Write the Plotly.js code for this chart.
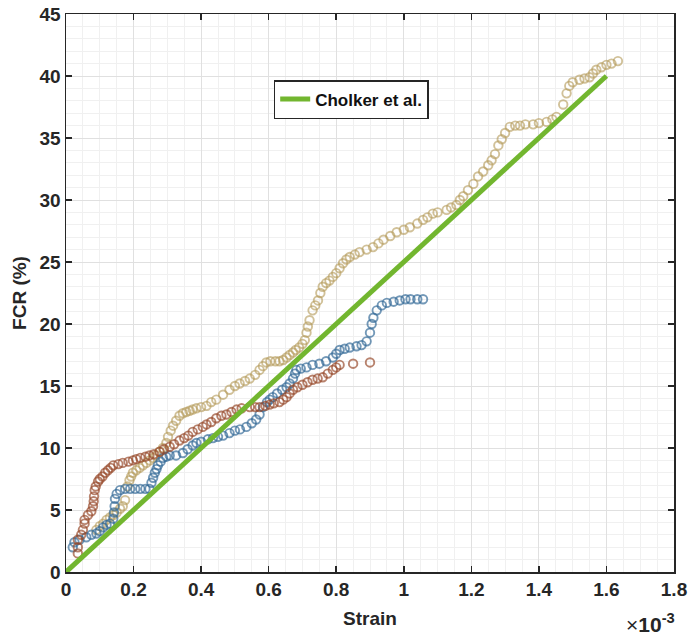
<!DOCTYPE html>
<html>
<head>
<meta charset="utf-8">
<script src="https://cdn.plot.ly/plotly-3.0.1.min.js"></script>
<style>html,body{margin:0;padding:0;background:#fff;}#chart{width:694px;height:636px;}</style>
</head>
<body>
<div id="chart"></div>
<script>
// Strain values are in units of 1e-3 (axis shows "x10^-3"), FCR in %.
const tanStrain = [0.09,0.10,0.11,0.12,0.13,0.14,0.15,0.16,0.168,0.175,0.182,0.188,0.193,0.198,0.208,0.218,0.228,0.238,0.248,0.257,0.267,0.277,0.287,0.297,0.302,0.31,0.317,0.326,0.336,0.346,0.356,0.366,0.375,0.386,0.40,0.416,0.43,0.445,0.465,0.484,0.50,0.514,0.53,0.544,0.56,0.573,0.583,0.593,0.605,0.62,0.632,0.643,0.653,0.662,0.672,0.68,0.69,0.70,0.707,0.712,0.716,0.721,0.73,0.738,0.746,0.753,0.76,0.77,0.78,0.79,0.80,0.81,0.82,0.83,0.84,0.855,0.869,0.89,0.909,0.925,0.94,0.96,0.979,1.0,1.018,1.04,1.057,1.07,1.086,1.10,1.127,1.14,1.156,1.166,1.176,1.19,1.206,1.22,1.235,1.25,1.26,1.27,1.28,1.29,1.30,1.314,1.33,1.344,1.36,1.383,1.40,1.423,1.44,1.452,1.472,1.482,1.49,1.50,1.52,1.535,1.55,1.56,1.57,1.585,1.60,1.615,1.634];
const tanFCR = [3.4,3.7,3.9,4.2,4.4,4.6,4.8,5.1,5.3,5.8,6.9,7.4,7.7,8.0,8.2,8.4,8.6,8.8,9.0,9.2,9.4,9.7,10.0,10.4,10.9,11.4,11.8,12.2,12.6,12.8,12.9,13.0,13.1,13.2,13.3,13.4,13.7,13.9,14.3,14.7,15.0,15.2,15.4,15.6,15.9,16.3,16.6,16.9,17.0,17.0,17.0,17.1,17.3,17.5,17.7,17.9,18.1,18.4,18.7,19.3,19.8,20.3,21.1,21.5,21.9,22.5,23.0,23.3,23.5,23.8,24.1,24.5,24.9,25.2,25.4,25.6,25.8,26.0,26.2,26.5,26.8,27.1,27.4,27.6,27.8,28.1,28.4,28.6,28.9,29.0,29.2,29.4,29.6,30.0,30.3,30.8,31.3,31.9,32.3,32.8,33.2,33.7,34.4,34.9,35.4,35.9,36.0,36.0,36.1,36.1,36.2,36.3,36.5,36.7,37.7,38.6,39.2,39.5,39.7,39.8,39.9,40.2,40.5,40.7,40.9,41.0,41.2];

const blueStrain = [0.02,0.025,0.04,0.06,0.075,0.09,0.10,0.11,0.12,0.13,0.14,0.142,0.144,0.145,0.15,0.16,0.175,0.19,0.205,0.22,0.235,0.247,0.253,0.258,0.263,0.268,0.272,0.28,0.287,0.297,0.307,0.326,0.346,0.36,0.375,0.386,0.40,0.42,0.435,0.45,0.465,0.484,0.50,0.515,0.534,0.55,0.563,0.573,0.583,0.595,0.603,0.612,0.625,0.64,0.653,0.662,0.672,0.678,0.682,0.695,0.712,0.73,0.75,0.77,0.79,0.80,0.81,0.825,0.84,0.86,0.875,0.89,0.90,0.905,0.91,0.92,0.935,0.95,0.97,0.988,1.005,1.02,1.04,1.057];
const blueFCR = [2.0,2.4,2.6,2.8,3.0,3.1,3.3,3.6,3.8,3.9,4.3,4.8,5.3,5.9,6.3,6.6,6.7,6.7,6.7,6.7,6.7,6.7,7.2,7.6,8.0,8.3,8.6,8.9,9.2,9.3,9.4,9.4,9.6,9.9,10.2,10.4,10.5,10.7,10.8,10.9,11.0,11.2,11.4,11.5,11.7,12.0,12.3,12.7,13.3,13.7,13.9,14.1,14.4,14.7,14.9,15.2,15.6,16.0,16.3,16.4,16.5,16.7,16.8,17.0,17.3,17.6,17.9,18.0,18.1,18.2,18.3,18.6,19.3,20.0,20.5,21.1,21.5,21.7,21.8,21.9,22.0,22.0,22.0,22.0];

const brownStrain = [0.035,0.035,0.035,0.045,0.05,0.055,0.055,0.065,0.075,0.08,0.082,0.083,0.085,0.088,0.095,0.10,0.108,0.116,0.124,0.132,0.14,0.155,0.168,0.185,0.198,0.208,0.22,0.235,0.247,0.26,0.277,0.29,0.307,0.32,0.336,0.35,0.362,0.375,0.39,0.405,0.416,0.43,0.445,0.46,0.475,0.49,0.505,0.52,0.544,0.56,0.573,0.59,0.603,0.615,0.632,0.643,0.653,0.662,0.672,0.685,0.70,0.715,0.73,0.745,0.76,0.775,0.79,0.80,0.81,0.85,0.90];
const brownFCR = [1.5,2.0,2.6,3.0,3.4,3.9,4.2,4.6,4.9,5.3,5.7,6.1,6.6,6.9,7.3,7.5,7.7,8.0,8.2,8.4,8.6,8.7,8.8,8.9,9.0,9.1,9.2,9.3,9.4,9.5,9.7,9.9,10.1,10.3,10.6,10.8,11.0,11.3,11.5,11.7,11.9,12.1,12.4,12.6,12.7,12.9,13.1,13.2,13.3,13.3,13.3,13.4,13.5,13.6,13.7,13.9,14.1,14.4,14.7,14.9,15.1,15.3,15.5,15.6,15.7,16.0,16.3,16.5,16.7,16.8,16.9];

const refName = 'Cholker et al.';
const refStrain = [0, 1.6];
const refFCR = [0, 40];

const xTickVals = [0,0.2,0.4,0.6,0.8,1,1.2,1.4,1.6,1.8];
const xTickText = ['0','0.2','0.4','0.6','0.8','1','1.2','1.4','1.6','1.8'];
const yTickVals = [0,5,10,15,20,25,30,35,40,45];

const FONT = 'Liberation Sans, Arial, sans-serif';

function scatterTrace(x, y, color) {
  return {
    x: x, y: y, type: 'scatter', mode: 'markers', showlegend: false, hoverinfo: 'skip',
    marker: {symbol: 'circle-open', size: 8.5, color: color, line: {width: 1.9, color: color}}
  };
}

const traces = [
  scatterTrace(tanStrain, tanFCR, 'rgba(180,155,90,0.62)'),
  scatterTrace(blueStrain, blueFCR, 'rgba(50,105,150,0.68)'),
  scatterTrace(brownStrain, brownFCR, 'rgba(150,72,42,0.68)'),
  {
    x: refStrain, y: refFCR, type: 'scatter', mode: 'lines', name: refName,
    line: {color: '#72b62f', width: 5}
  }
];

const axisCommon = {
  showline: true, linecolor: '#262626', linewidth: 1.5, mirror: 'ticks',
  ticks: 'inside', ticklen: 6, tickwidth: 1.5, tickcolor: '#262626',
  showgrid: true, gridcolor: '#e0e0e0', gridwidth: 1, zeroline: false,
  tickfont: {family: FONT, size: 19, color: '#262626', weight: 'bold'}
};

const layout = {
  width: 694, height: 636,
  margin: {l: 66, r: 20, t: 14, b: 64},
  paper_bgcolor: '#ffffff', plot_bgcolor: '#ffffff',
  font: {family: FONT, color: '#262626'},
  xaxis: Object.assign({}, axisCommon, {
    range: [0, 1.8], tickmode: 'array', tickvals: xTickVals, ticktext: xTickText,
    minor: {dtick: 0.05, tick0: 0, showgrid: true, gridcolor: '#f0f0f0', gridwidth: 1, ticks: ''},
    title: {text: '<b>Strain</b>', font: {family: FONT, size: 19, color: '#262626'}, standoff: 12}
  }),
  yaxis: Object.assign({}, axisCommon, {
    range: [0, 45], tickmode: 'array', tickvals: yTickVals,
    minor: {dtick: 1, tick0: 0, showgrid: true, gridcolor: '#f0f0f0', gridwidth: 1, ticks: ''},
    title: {text: '<b>FCR (%)</b>', font: {family: FONT, size: 19, color: '#262626'}, standoff: 8}
  }),
  legend: {
    x: 0.3416, y: 0.8817, xanchor: 'left', yanchor: 'top',
    bgcolor: '#ffffff', bordercolor: '#262626', borderwidth: 1.5,
    font: {family: FONT, size: 17, color: '#111111', weight: 'bold'}
  },
  annotations: [{
    xref: 'paper', yref: 'paper', x: 1.005, y: 0, xanchor: 'right', yanchor: 'top', yshift: -36,
    showarrow: false, text: '<span style="font-weight:normal">×</span><b>10</b><sup><b>-3</b></sup>',
    font: {family: FONT, size: 21, color: '#262626'}
  }],
  showlegend: true
};

Plotly.newPlot('chart', traces, layout, {displayModeBar: false, staticPlot: true});
</script>
</body>
</html>
